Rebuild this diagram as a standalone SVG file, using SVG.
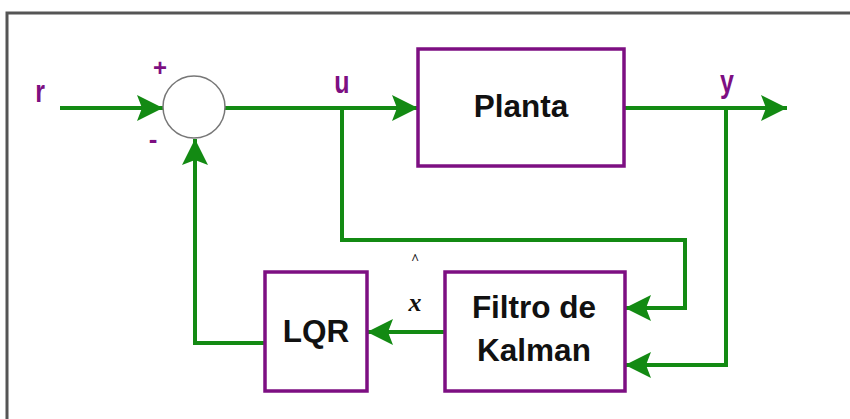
<svg xmlns="http://www.w3.org/2000/svg" width="850" height="419" viewBox="0 0 850 419">
  <defs>
    <marker id="arrow" markerUnits="userSpaceOnUse" markerWidth="28" markerHeight="28" viewBox="-27 -14 28 28" refX="0" refY="0" orient="auto">
      <path d="M0,0 L-26,-13 L-21,0 L-26,13 Z" fill="#138a13"/>
    </marker>
  </defs>
  <style>
    .frame { fill: none; stroke: #555; stroke-width: 3; }
    .wire { fill: none; stroke: #138a13; stroke-width: 4; stroke-linejoin: miter; }
    .box { fill: #fff; stroke: #7d0f82; stroke-width: 3.5; }
    .sum { fill: #fff; stroke: #777; stroke-width: 1.5; }
    .lbl { font-family: "Liberation Sans", Arial, sans-serif; font-weight: bold; fill: #7d0f82; }
    .txt { font-family: "Liberation Sans", Arial, sans-serif; font-weight: bold; font-size: 31.5px; fill: #111; text-anchor: middle; }
    .var { font-family: "Liberation Serif", "Times New Roman", serif; font-style: italic; font-weight: bold; fill: #111; text-anchor: middle; }
  </style>

  <rect x="0" y="0" width="850" height="419" fill="#fff"/>
  <path class="frame" d="M7,425 V13 H855"/>

  <!-- connectors -->
  <g id="connectors">
    <path class="wire" d="M60,108 H163" marker-end="url(#arrow)"/>
    <path class="wire" d="M225,108 H418" marker-end="url(#arrow)"/>
    <path class="wire" d="M624,108 H787" marker-end="url(#arrow)"/>
    <path class="wire" d="M342,108 V240 H685 V308 H625" marker-end="url(#arrow)"/>
    <path class="wire" d="M726,108 V365 H625" marker-end="url(#arrow)"/>
    <path class="wire" d="M445,332 H367" marker-end="url(#arrow)"/>
    <path class="wire" d="M265,343 H195 V139" marker-end="url(#arrow)"/>
  </g>

  <!-- summing junction -->
  <g id="sum">
    <circle class="sum" cx="194" cy="107" r="31"/>
    <text class="lbl" x="160" y="76" font-size="24" text-anchor="middle">+</text>
    <text class="lbl" x="153" y="148" font-size="26" text-anchor="middle">-</text>
  </g>

  <!-- signal labels, drawn slightly tall -->
  <g id="label-r"><text class="lbl" transform="translate(40,102) scale(1,1.25)" font-size="25" text-anchor="middle">r</text></g>
  <g id="label-u"><text class="lbl" transform="translate(342,93) scale(1,1.25)" font-size="25" text-anchor="middle">u</text></g>
  <g id="label-y"><text class="lbl" transform="translate(727,92) scale(1,1.25)" font-size="25" text-anchor="middle">y</text></g>

  <g id="planta">
    <rect class="box" x="418" y="49" width="206" height="117"/>
    <text class="txt" x="521" y="117" font-size="35">Planta</text>
  </g>

  <g id="kalman">
    <rect class="box" x="445" y="272" width="180" height="119"/>
    <text class="txt" x="534" y="318">Filtro de</text>
    <text class="txt" x="534" y="361">Kalman</text>
  </g>

  <g id="lqr">
    <rect class="box" x="265" y="272" width="102" height="119"/>
    <text class="txt" x="316" y="342">LQR</text>
  </g>

  <g id="label-xhat">
    <text class="var" x="415" y="264" font-size="14">^</text>
    <text class="var" x="415" y="311" font-size="26">x</text>
  </g>
</svg>
